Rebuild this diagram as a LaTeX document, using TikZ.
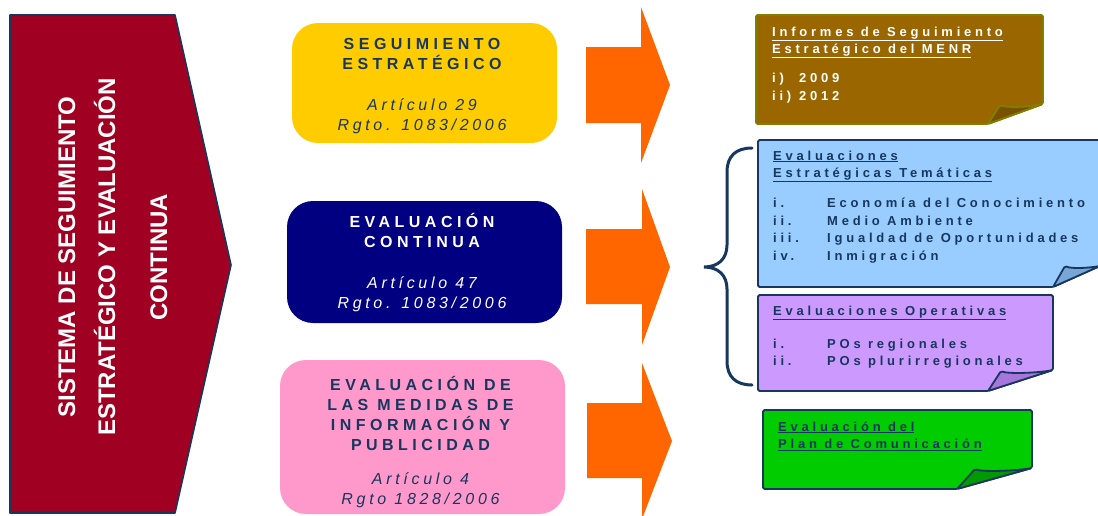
\documentclass[tikz,border=0pt]{standalone}
\usepackage{fontspec}
\setmainfont{Liberation Sans}
\newfontfamily\trackfont[LetterSpace=28]{Liberation Sans}
\newfontfamily\trackitfont[LetterSpace=23]{Liberation Sans}
\newfontfamily\notefont[LetterSpace=29]{Liberation Sans}
\usepackage{tikz}
\usetikzlibrary{calc}
\definecolor{sysred}{HTML}{A00021}
\definecolor{navyline}{HTML}{17375E}
\definecolor{boxyellow}{HTML}{FFCC00}
\definecolor{boxnavy}{HTML}{000080}
\definecolor{boxpink}{HTML}{FF99CC}
\definecolor{arrorange}{HTML}{FF6600}
\definecolor{notebrown}{HTML}{996600}
\definecolor{foldbrown}{HTML}{7A5100}
\definecolor{olive}{HTML}{808000}
\definecolor{noteblue}{HTML}{99CCFF}
\definecolor{foldblue}{HTML}{78A6D6}
\definecolor{noteviolet}{HTML}{CC99FF}
\definecolor{foldviolet}{HTML}{A676DC}
\definecolor{notegreen}{HTML}{00CC00}
\definecolor{foldgreen}{HTML}{009900}
\tikzset{
  sysbox/.style={fill=sysred, draw=navyline, line width=1.6pt, line join=round},
  systxt/.style={rotate=90, anchor=base, inner sep=0pt, text=white, font=\fontsize{24}{28}\selectfont\bfseries},
  mbox/.style={rounded corners=26pt, inner sep=0pt},
  mtxt/.style={inner sep=0pt, align=center, font=\fontsize{16}{20}\selectfont\trackfont\bfseries, text=navyline},
  bigarrow/.style={fill=arrorange},
  notebox/.style={line width=1.8pt, draw=navyline, rounded corners=1.5pt, line join=round},
  ntxt/.style={anchor=base west, inner sep=0pt, align=flush left, text width=330pt, font=\fontsize{13}{17.5}\selectfont\notefont\bfseries, text=navyline},
  brc/.style={draw=navyline, line width=3pt, line cap=round},
}
\newcommand{\artl}[1]{{\trackitfont\mdseries\itshape #1}}

\begin{document}
\begin{tikzpicture}[x=1pt, y=-1pt]
  \useasboundingbox (0,0) rectangle (1098,515);

  % --- left chevron ---
  \draw[sysbox] (10,15) -- (175,15) -- (231,265) -- (175,513) -- (10,513) -- cycle;
  \node[systxt] (sys1) at (75,257) {SISTEMA DE SEGUIMIENTO};
  \node[systxt] (sys2) at (115,257) {ESTRATÉGICO Y EVALUACIÓN};
  \node[systxt] (sys3) at (167,257) {CONTINUA};

  % --- middle boxes ---
  \node[mbox, fill=boxyellow, minimum width=265pt, minimum height=120pt] (segui) at (424.5,83) {};
  \node[mtxt] (seguitxt) at (422,86) {SEGUIMIENTO\\ESTRATÉGICO\\[21pt]\artl{Artículo 29}\\\artl{Rgto. 1083/2006}};

  \node[mbox, fill=boxnavy, minimum width=275pt, minimum height=122pt] (evcont) at (424.5,262) {};
  \node[mtxt, text=white] (evconttxt) at (422,263) {EVALUACIÓN\\CONTINUA\\[21pt]\artl{Artículo 47}\\\artl{Rgto. 1083/2006}};

  \node[mbox, fill=boxpink, minimum width=285pt, minimum height=154pt] (evpub) at (422.5,437) {};
  \node[mtxt] (evpubtxt) at (420.5,442) {EVALUACIÓN DE\\LAS MEDIDAS DE\\INFORMACIÓN Y\\PUBLICIDAD\\[14pt]\artl{Artículo 4}\\\artl{Rgto 1828/2006}};

  % --- orange arrows ---
  \fill[bigarrow] (586,47) -- (641,47) -- (641,7) -- (670,85) -- (641,163) -- (641,123) -- (586,123) -- cycle;
  \fill[bigarrow] (586,229) -- (642,229) -- (642,189) -- (670,267) -- (642,345) -- (642,304) -- (586,304) -- cycle;
  \fill[bigarrow] (587,403) -- (642,403) -- (642,363) -- (672,441) -- (642,519) -- (642,478) -- (587,478) -- cycle;

  % --- notes ---
  \draw[notebox, fill=notebrown, draw=olive] (756,15) -- (1043,15) -- (1043,104) -- (988,124) -- (756,124) -- cycle;
  \draw[notebox, fill=foldbrown, draw=olive] (988,124) -- (1000,105) .. controls (1008,108) and (1028,107) .. (1043,104) -- cycle;
  \node[ntxt, text=white] (informes) at (772,36) {\underline{Informes de Seguimiento}\\\underline{Estratégico del MENR}\\[11.5pt]%
    \makebox[27pt][l]{i)}2009\\\makebox[27pt][l]{ii)}2012};

  \draw[notebox, fill=noteblue] (758,140) -- (1100,140) -- (1100,266) -- (1053,287) -- (758,287) -- cycle;
  \draw[notebox, fill=foldblue] (1053,287) -- (1065,266) .. controls (1072,269) and (1088,268) .. (1100,266) -- cycle;
  \node[ntxt] (tematicas) at (773,160) {\underline{Evaluaciones}\\\underline{Estratégicas Temáticas}\\[12.5pt]%
    \makebox[54pt][l]{i.}Economía del Conocimiento\\
    \makebox[54pt][l]{ii.}Medio Ambiente\\
    \makebox[54pt][l]{iii.}Igualdad de Oportunidades\\
    \makebox[54pt][l]{iv.}Inmigración};

  \draw[notebox, fill=noteviolet] (758,295) -- (1053,295) -- (1053,370) -- (988,391) -- (758,391) -- cycle;
  \draw[notebox, fill=foldviolet] (988,391) -- (1001,371) .. controls (1008,374) and (1038,373) .. (1053,370) -- cycle;
  \node[ntxt] (operativas) at (773,315) {\underline{Evaluaciones Operativas}\\[15.5pt]%
    \makebox[54pt][l]{i.}POs regionales\\
    \makebox[54pt][l]{ii.}POs plurirregionales};

  \draw[notebox, fill=notegreen] (763,410) -- (1032,410) -- (1032,468) -- (957,489) -- (763,489) -- cycle;
  \draw[notebox, fill=foldgreen] (957,489) -- (975,469) .. controls (982,472) and (1015,471) .. (1032,468) -- cycle;
  \node[ntxt] (comunic) at (778,431) {\underline{Evaluación del}\\\underline{Plan de Comunicación}};

  % --- brace ---
  \coordinate (brtop) at (752,148);
  \coordinate (brbot) at (752,385);
  \draw[brc] (brtop) .. controls (736,148) and (727,156) .. (727,172) -- (727,245)
    .. controls (727,259) and (718,267) .. (704,267)
    .. controls (718,267) and (727,275) .. (727,289) -- (727,361)
    .. controls (727,377) and (736,385) .. (brbot);
\end{tikzpicture}
\end{document}
